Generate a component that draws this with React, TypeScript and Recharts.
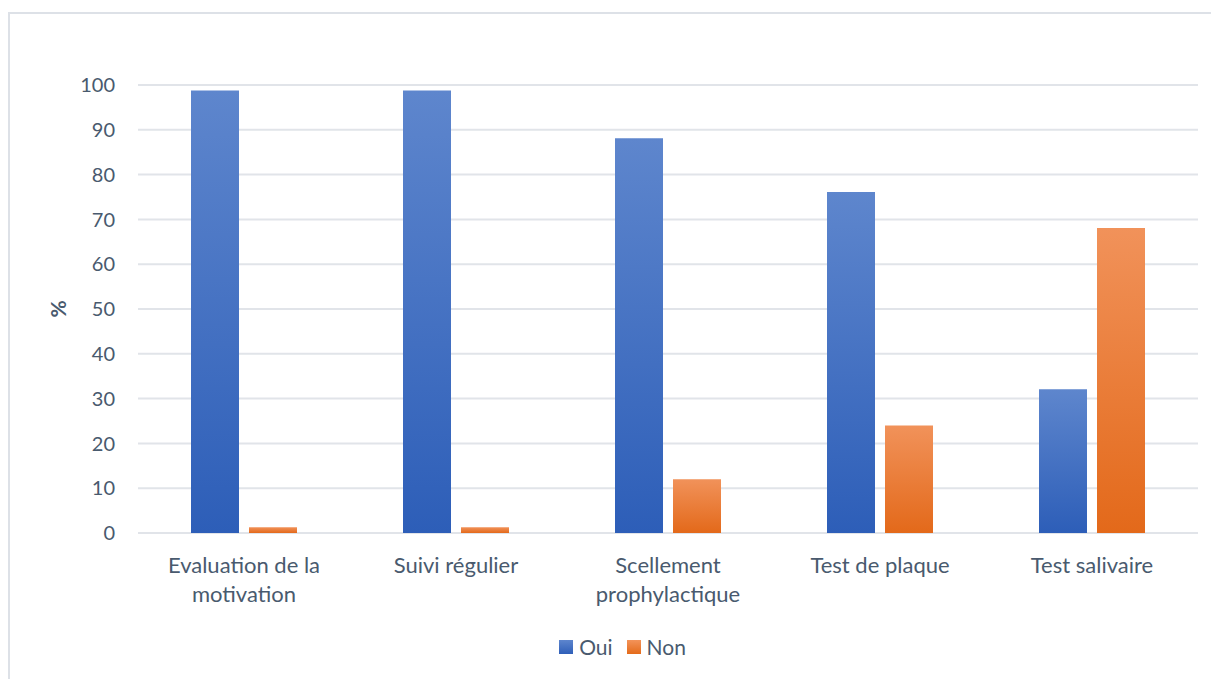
import React from "react"
import {
  BarChart,
  Bar,
  XAxis,
  YAxis,
  CartesianGrid,
  Legend,
  Text
} from "recharts"

const categories = [
  "Evaluation de la motivation",
  "Suivi régulier",
  "Scellement prophylactique",
  "Test de plaque",
  "Test salivaire"
]
const oui = [98.8, 98.8, 88.1, 76.1, 32.1]
const non = [1.3, 1.3, 12, 24, 68.1]
const yTicks = [0, 10, 20, 30, 40, 50, 60, 70, 80, 90, 100]

const data = categories.map((name, i) => ({ name, Oui: oui[i], Non: non[i] }))

const textColor = "#495a6e"
const font = "Lato, 'Open Sans', sans-serif"

function CategoryTick(props: any) {
  const { x, y, payload } = props
  return (
    <Text
      x={x}
      y={y}
      width={180}
      textAnchor="middle"
      verticalAnchor="start"
      lineHeight={29}
      fill={textColor}
      fontSize={22}
      fontFamily={font}
      style={{ fontSize: 22, fontFamily: font }}
    >
      {payload.value}
    </Text>
  )
}

function PercentLabel(props: any) {
  const { viewBox } = props
  const cy = viewBox.y + viewBox.height / 2
  return (
    <text
      x={47}
      y={cy}
      transform={`rotate(-90 47 ${cy})`}
      textAnchor="middle"
      dominantBaseline="central"
      fill={textColor}
      fontSize={21}
      fontWeight="bold"
      fontFamily={font}
    >
      %
    </text>
  )
}

function LegendBox() {
  const items = [
    { label: "Oui", from: "#5d85cd", to: "#2f5fb8" },
    { label: "Non", from: "#f3935a", to: "#e46b1a" }
  ]
  return (
    <div style={{ display: "flex", justifyContent: "center", paddingLeft: 24, fontFamily: font, fontSize: 21, color: textColor }}>
      {items.map(it => (
        <div key={it.label} style={{ display: "flex", alignItems: "center", marginRight: 7, marginLeft: 7 }}>
          <span
            style={{
              width: 14,
              height: 14,
              marginRight: 6,
              background: `linear-gradient(${it.from}, ${it.to})`
            }}
          />
          <span>{it.label}</span>
        </div>
      ))}
    </div>
  )
}

export default function App() {
  return (
    <div style={{ position: "fixed", left: 0, top: 0, width: 1211, height: 679, overflow: "hidden", background: "#fff" }}>
      <div
        style={{
          position: "absolute",
          left: 8,
          top: 12,
          width: 1203,
          height: 667,
          borderLeft: "2px solid #dde1e7",
          borderTop: "2px solid #dde1e7",
          boxSizing: "border-box"
        }}
      >
        <BarChart
          width={1201}
          height={665}
          data={data}
          margin={{ top: 71, right: 13, left: 0, bottom: 66 }}
          barCategoryGap="25%"
          barGap={10}
        >
          <defs>
            <linearGradient id="gOui" x1="0" y1="0" x2="0" y2="1">
              <stop offset="0%" stopColor="#5e86cd" />
              <stop offset="100%" stopColor="#2d5eb8" />
            </linearGradient>
            <linearGradient id="gNon" x1="0" y1="0" x2="0" y2="1">
              <stop offset="0%" stopColor="#f1925a" />
              <stop offset="100%" stopColor="#e3691a" />
            </linearGradient>
          </defs>

          <CartesianGrid vertical={false} stroke="#e1e4e9" strokeWidth={2} />

          <XAxis
            dataKey="name"
            axisLine={false}
            tickLine={false}
            interval={0}
            height={80}
            tickMargin={18}
            tick={<CategoryTick />}
          />

          <YAxis
            domain={[0, 100]}
            ticks={yTicks}
            width={128}
            axisLine={false}
            tickLine={false}
            tickMargin={17}
            tick={{ fill: textColor, fontSize: 20, fontFamily: font }}
            label={<PercentLabel />}
          />

          <Legend
            verticalAlign="middle"
            align="center"
            content={<LegendBox />}
            wrapperStyle={{ top: 620, left: 0, width: 1201 }}
          />

          <Bar dataKey="Oui" fill="url(#gOui)" isAnimationActive={false} />
          <Bar dataKey="Non" fill="url(#gNon)" isAnimationActive={false} />
        </BarChart>
      </div>
    </div>
  )
}
